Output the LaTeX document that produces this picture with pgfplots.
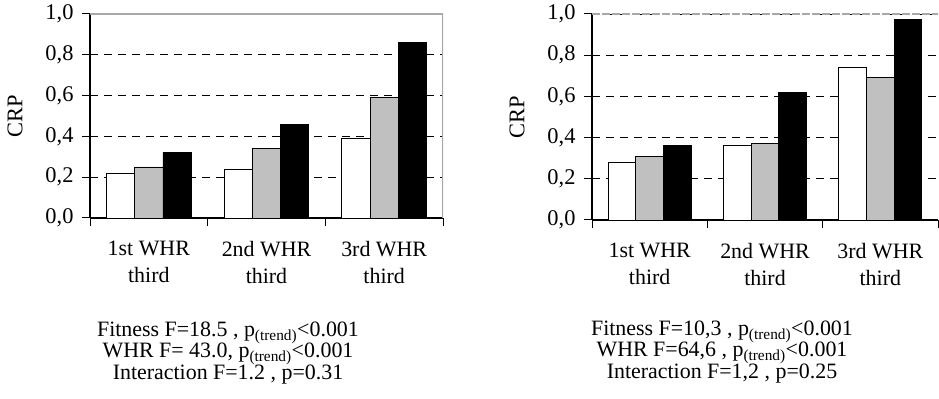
\documentclass[border=0pt]{standalone}
\usepackage{fontspec}
\setmainfont{Liberation Serif}
\usepackage{pgfplots}
\pgfplotsset{compat=1.18}
\usepackage{pgfplotstable}
\definecolor{barg}{HTML}{C0C0C0}
\definecolor{frameg}{HTML}{A8A8A8}

\pgfplotstableread{
x w g b
0 0.22 0.25 0.32
1 0.24 0.34 0.46
2 0.39 0.59 0.86
}\leftdata
\pgfplotstableread{
x w g b
0 0.28 0.31 0.36
1 0.36 0.37 0.62
2 0.74 0.69 0.975
}\rightdata

\pgfplotsset{
  crpaxis/.style={
    scale only axis,
    ybar, bar width=0.24,
    xmin=-0.5, xmax=2.5, ymin=0, ymax=1,
    axis x line*=bottom, axis y line*=left,
    axis line style={line width=1.1bp, black, -},
    xtick={-0.5,0.5,1.5,2.5}, xticklabels={},
    extra x ticks={0,1,2},
    extra x tick labels={{1st WHR\\third},{2nd WHR\\third},{3rd WHR\\third}},
    extra x tick style={major tick length=0pt, xticklabel shift=20bp},
    x tick label style={align=center, font=\fontsize{22}{27}\selectfont},
    ytick={0,0.2,0.4,0.6,0.8,1.0},
    y tick label style={font=\fontsize{22.5}{26}\selectfont, xshift=-5bp},
    yticklabel style={/pgf/number format/.cd, fixed, fixed zerofill, precision=1, use comma, assume math mode=true},
    ymajorgrids,
    y grid style={black, line width=0.8bp, dash pattern=on 8bp off 6bp},
    tick align=outside, major tick length=8bp,
    tick style={black, line width=1bp},
    ylabel={CRP},
    ylabel style={font=\fontsize{22.5}{26}\selectfont, at={(axis description cs:0,0.5)}, anchor=center, yshift=75bp},
    every axis plot/.append style={draw=black, line width=0.8bp},
  }
}

\begin{document}
\begin{tikzpicture}
\useasboundingbox (0,0) rectangle (939bp,399bp);

\begin{axis}[crpaxis, name=ax1, width=353bp, height=204bp, at={(90bp,181bp)}, anchor=south west]
  \addplot[fill=white, bar shift=-0.24] table[x=x, y=w] {\leftdata};
  \addplot[fill=barg, bar shift=0] table[x=x, y=g] {\leftdata};
  \addplot[fill=black, bar shift=0.24] table[x=x, y=b] {\leftdata};
  \draw[frameg, line width=1.2bp] (rel axis cs:0,1) -- (rel axis cs:1,1) -- (rel axis cs:1,0);
\end{axis}

\begin{axis}[crpaxis, name=ax2, width=346bp, height=206bp, at={(592bp,179bp)}, anchor=south west]
  \addplot[fill=white, bar shift=-0.24] table[x=x, y=w] {\rightdata};
  \addplot[fill=barg, bar shift=0] table[x=x, y=g] {\rightdata};
  \addplot[fill=black, bar shift=0.24] table[x=x, y=b] {\rightdata};
  \draw[frameg, line width=1.2bp, dash pattern=on 8bp off 2bp] (rel axis cs:0,1) -- (rel axis cs:1,1);
\end{axis}

\begin{scope}[every node/.style={anchor=base, inner sep=0pt, font=\fontsize{22}{26}\selectfont}]
  \node at (228bp,62bp) {Fitness F=18.5 , p\textsubscript{(trend)}<0.001};
  \node at (228bp,41bp) {WHR F= 43.0, p\textsubscript{(trend)}<0.001};
  \node at (228bp,20bp) {Interaction F=1.2 , p=0.31};
  \node at (722bp,63bp) {Fitness F=10,3 , p\textsubscript{(trend)}<0.001};
  \node at (722bp,42bp) {WHR F=64,6 , p\textsubscript{(trend)}<0.001};
  \node at (722bp,21bp) {Interaction F=1,2 , p=0.25};
\end{scope}
\end{tikzpicture}
\end{document}
